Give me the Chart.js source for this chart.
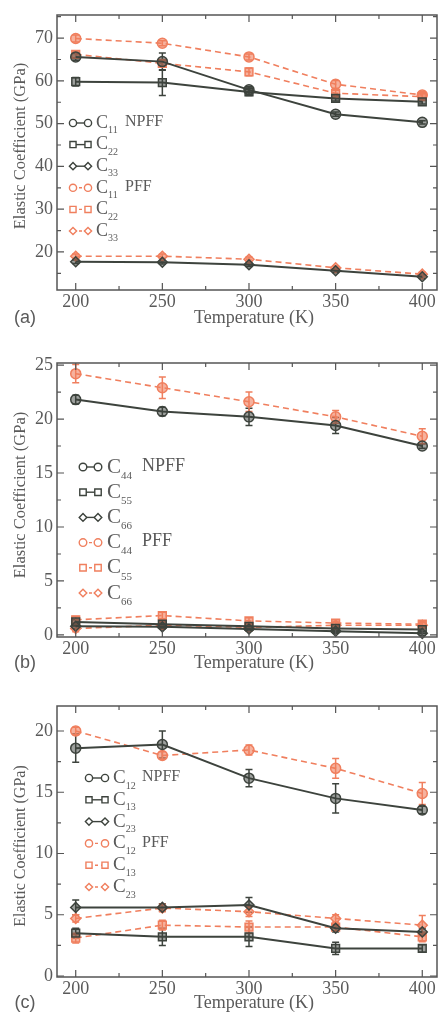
<!DOCTYPE html>
<html>
<head>
<meta charset="utf-8">
<script src="https://cdn.jsdelivr.net/npm/chart.js@4.4.1/dist/chart.umd.min.js"></script>
<style>
  html, body { margin: 0; padding: 0; background: #fff; }
  body { width: 444px; height: 1014px; position: relative; overflow: hidden; }
  canvas { position: absolute; left: 0; }
</style>
</head>
<body>
<canvas id="ca" width="444" height="335" style="top:0px"></canvas>
<canvas id="cb" width="444" height="340" style="top:335px"></canvas>
<canvas id="cc" width="444" height="344" style="top:670px"></canvas>
<script>
// ---- data ----
const temps = [200, 250, 300, 350, 400];
const xTicks = [200, 250, 300, 350, 400];
const xMinor = [225, 275, 325, 375];

// (a) C11, C22, C33
const c11Npff = [65.6, 64.5, 57.9, 52.2, 50.3];
const c22Npff = [59.8, 59.6, 57.4, 55.9, 55.1];
const c33Npff = [17.7, 17.6, 17.0, 15.6, 14.2];
const c11Pff = [69.9, 68.8, 65.6, 59.2, 56.7];
const c22Pff = [66.2, 64.1, 62.1, 57.1, 56.3];
const c33Pff = [19.0, 19.0, 18.3, 16.3, 14.8];
const c11NpffErr = [0.8, 2.0, 0.7, 0.5, 0.4];
const c22NpffErr = [1.0, 3.0, 0.8, 0.6, 0.5];
const c33NpffErr = [0.4, 0.4, 0.4, 0.4, 0.4];
const c11PffErr = [0.8, 0.6, 0.7, 0.9, 0.8];
const c22PffErr = [0.8, 0.7, 0.9, 0.7, 0.7];
const c33PffErr = [0.5, 0.5, 0.5, 0.4, 0.5];
const yTicksA = [20, 30, 40, 50, 60, 70];
const yMinorA = [15, 25, 35, 45, 55, 65, 75];

// (b) C44, C55, C66
const c44Npff = [21.8, 20.7, 20.2, 19.4, 17.5];
const c55Npff = [1.2, 1.0, 0.8, 0.6, 0.5];
const c66Npff = [0.8, 0.75, 0.55, 0.35, 0.15];
const c44Pff = [24.2, 22.9, 21.6, 20.2, 18.4];
const c55Pff = [1.4, 1.8, 1.3, 1.1, 1.0];
const c66Pff = [0.6, 0.9, 0.7, 0.9, 0.9];
const c44NpffErr = [0.4, 0.4, 0.8, 0.75, 0.2];
const c55NpffErr = [0.2, 0.2, 0.2, 0.2, 0.2];
const c66NpffErr = [0.2, 0.2, 0.2, 0.2, 0.2];
const c44PffErr = [0.85, 1.0, 0.9, 0.6, 0.7];
const c55PffErr = [0.3, 0.3, 0.3, 0.3, 0.3];
const c66PffErr = [0.3, 0.3, 0.3, 0.3, 0.3];
const yTicksB = [0, 5, 10, 15, 20, 25];
const yMinorB = [2.5, 7.5, 12.5, 17.5, 22.5];

// (c) C12, C13, C23
const c12Npff = [18.6, 18.9, 16.15, 14.5, 13.55];
const c13Npff = [3.5, 3.2, 3.2, 2.25, 2.25];
const c23Npff = [5.6, 5.6, 5.8, 3.9, 3.6];
const c12Pff = [20.0, 18.0, 18.45, 16.95, 14.9];
const c13Pff = [3.1, 4.15, 4.0, 4.0, 3.2];
const c23Pff = [4.7, 5.55, 5.25, 4.7, 4.15];
const c12NpffErr = [1.15, 1.1, 0.7, 1.2, 0.3];
const c13NpffErr = [0.4, 0.7, 0.8, 0.5, 0.3];
const c23NpffErr = [0.6, 0.3, 0.6, 0.3, 0.3];
const c12PffErr = [0.3, 0.3, 0.4, 0.8, 0.9];
const c13PffErr = [0.4, 0.4, 0.5, 0.3, 0.4];
const c23PffErr = [0.3, 0.3, 0.4, 0.3, 0.8];
const yTicksC = [0, 5, 10, 15, 20];
const yMinorC = [2.5, 7.5, 12.5, 17.5];

// ---- styling ----
const BLACK = '#3d433d';
const BLACK_FILL = 'rgba(61,67,61,0.5)';
const ORANGE = '#f07f5e';
const ORANGE_FILL = 'rgba(240,127,94,0.6)';
const TEXT = '#5a5a5a';
const SERIF = '"Liberation Serif", "DejaVu Serif", serif';
const SANS = '"Liberation Sans", "DejaVu Sans", sans-serif';
const STYLES = ['circle', 'rect', 'rectRot'];

function series(vals, errs, idx, pff) {
  return {
    data: temps.map((t, i) => ({ x: t, y: vals[i] })),
    errors: errs,
    borderColor: pff ? ORANGE : BLACK,
    backgroundColor: pff ? ORANGE_FILL : BLACK_FILL,
    borderWidth: pff ? 1.6 : 2,
    borderDash: pff ? [6, 4] : [],
    pointStyle: STYLES[idx],
    pointRadius: idx === 1 ? 5.5 : 5,
    pointBorderWidth: 1.5,
    pointBorderColor: pff ? ORANGE : BLACK,
    pointBackgroundColor: pff ? ORANGE_FILL : BLACK_FILL,
    tension: 0,
    clip: 8
  };
}

function drawMarker(ctx, style, x, y, r) {
  ctx.beginPath();
  if (style === 'circle') ctx.arc(x, y, r, 0, Math.PI * 2);
  else if (style === 'rect') ctx.rect(x - r * 0.85, y - r * 0.85, r * 1.7, r * 1.7);
  else { ctx.moveTo(x, y - r); ctx.lineTo(x + r, y); ctx.lineTo(x, y + r); ctx.lineTo(x - r, y); ctx.closePath(); }
  ctx.fill(); ctx.stroke();
}

const errorBars = {
  id: 'errorBars',
  beforeDatasetsDraw(chart) {
    const ctx = chart.ctx, xs = chart.scales.x, ys = chart.scales.y;
    ctx.save();
    chart.data.datasets.forEach(ds => {
      if (!ds.errors) return;
      ctx.strokeStyle = ds.borderColor;
      ctx.lineWidth = 1.5;
      ctx.setLineDash([]);
      ds.data.forEach((p, i) => {
        const e = ds.errors[i];
        const px = xs.getPixelForValue(p.x);
        const y1 = ys.getPixelForValue(p.y + e), y2 = ys.getPixelForValue(p.y - e);
        ctx.beginPath();
        ctx.moveTo(px, y1); ctx.lineTo(px, y2);
        ctx.moveTo(px - 3.5, y1); ctx.lineTo(px + 3.5, y1);
        ctx.moveTo(px - 3.5, y2); ctx.lineTo(px + 3.5, y2);
        ctx.stroke();
      });
    });
    ctx.restore();
  }
};

const decor = {
  id: 'decor',
  afterDraw(chart, args, o) {
    const ctx = chart.ctx, a = chart.chartArea, xs = chart.scales.x, ys = chart.scales.y;
    ctx.save();
    ctx.strokeStyle = '#555';
    ctx.lineWidth = 1.5;
    ctx.setLineDash([]);
    ctx.strokeRect(a.left, a.top, a.right - a.left, a.bottom - a.top);
    ctx.lineWidth = 1.2;
    const vt = (v, len) => {
      const px = xs.getPixelForValue(v);
      ctx.beginPath();
      ctx.moveTo(px, a.bottom); ctx.lineTo(px, a.bottom - len);
      ctx.moveTo(px, a.top); ctx.lineTo(px, a.top + len);
      ctx.stroke();
    };
    const ht = (v, len) => {
      const py = ys.getPixelForValue(v);
      if (py < a.top - 0.5 || py > a.bottom + 0.5) return;
      ctx.beginPath();
      ctx.moveTo(a.left, py); ctx.lineTo(a.left + len, py);
      ctx.moveTo(a.right, py); ctx.lineTo(a.right - len, py);
      ctx.stroke();
    };
    xTicks.forEach(v => vt(v, 7));
    xMinor.forEach(v => vt(v, 4));
    o.yMajor.forEach(v => ht(v, 7));
    o.yMinor.forEach(v => ht(v, 4));

    // titles
    ctx.fillStyle = TEXT;
    ctx.textAlign = 'center';
    ctx.textBaseline = 'middle';
    ctx.font = '18px ' + SERIF;
    ctx.fillText('Temperature (K)', 254, o.xTitleY);
    ctx.font = '18px ' + SANS;
    ctx.fillText(o.tag, 25, o.xTitleY);
    ctx.save();
    ctx.translate(21, o.yTitleY);
    ctx.rotate(-Math.PI / 2);
    ctx.font = o.yTitleSize + 'px ' + SERIF;
    ctx.fillText('Elastic Coefficient (GPa)', 0, 0);
    ctx.restore();

    // legend
    const L = o.legend;
    o.items.forEach((it, i) => {
      const y = L.y + i * L.dy;
      const pff = i >= 3;
      ctx.strokeStyle = pff ? ORANGE : BLACK;
      ctx.lineWidth = 1.4;
      ctx.setLineDash(pff ? [3, 3] : []);
      ctx.beginPath(); ctx.moveTo(L.m1, y); ctx.lineTo(L.m2, y); ctx.stroke();
      ctx.setLineDash([]);
      ctx.fillStyle = '#fff';
      drawMarker(ctx, STYLES[i % 3], L.m1, y, L.r);
      drawMarker(ctx, STYLES[i % 3], L.m2, y, L.r);
      ctx.fillStyle = TEXT;
      ctx.textAlign = 'left';
      ctx.textBaseline = 'middle';
      ctx.font = L.cSize + 'px ' + SERIF;
      ctx.fillText('C', L.cx, y);
      const w = ctx.measureText('C').width;
      ctx.font = L.subSize + 'px ' + SERIF;
      ctx.fillText(it.sub, L.cx + w, y + L.cSize * 0.42);
      if (it.suffix) {
        ctx.font = L.sufSize + 'px ' + SERIF;
        ctx.fillText(it.suffix, L.sx, y - 1);
      }
    });
    ctx.restore();
  }
};

function makeChart(id, datasets, yMin, yMax, yMajor, yMinor, box, decorOpts) {
  const cv = document.getElementById(id);
  return new Chart(cv, {
    type: 'line',
    data: { datasets },
    options: {
      responsive: false,
      animation: false,
      layout: { padding: { top: box.top, right: 1, left: 0, bottom: 0 } },
      plugins: { legend: { display: false }, tooltip: { enabled: false }, decor: decorOpts },
      scales: {
        x: {
          type: 'linear', min: 189.2, max: 408.5,
          afterBuildTicks: s => { s.ticks = xTicks.map(v => ({ value: v })); },
          afterFit: s => { s.height = cv.height - box.bottom; },
          grid: { display: false, drawTicks: false },
          border: { display: false },
          ticks: { autoSkip: false, maxRotation: 0, padding: 1, color: TEXT, font: { family: SERIF, size: 18 } }
        },
        y: {
          type: 'linear', min: yMin, max: yMax,
          afterBuildTicks: s => { s.ticks = yMajor.map(v => ({ value: v })); },
          afterFit: s => { s.width = 57; },
          grid: { display: false, drawTicks: false },
          border: { display: false },
          ticks: { padding: 4, color: TEXT, font: { family: SERIF, size: 18 } }
        }
      }
    },
    plugins: [errorBars, decor]
  });
}

makeChart('ca', [
  series(c11Npff, c11NpffErr, 0, false),
  series(c22Npff, c22NpffErr, 1, false),
  series(c33Npff, c33NpffErr, 2, false),
  series(c11Pff, c11PffErr, 0, true),
  series(c22Pff, c22PffErr, 1, true),
  series(c33Pff, c33PffErr, 2, true)
], 11.1, 75.4, yTicksA, yMinorA, { top: 15, bottom: 290 }, {
  yMajor: yTicksA, yMinor: yMinorA, xTitleY: 318, yTitleY: 146, yTitleSize: 16.5, tag: '(a)',
  legend: { y: 123, dy: 21.6, m1: 73, m2: 88, r: 3.6, cx: 96, sx: 125, cSize: 18, subSize: 10, sufSize: 16 },
  items: [{ sub: '11', suffix: 'NPFF' }, { sub: '22' }, { sub: '33' }, { sub: '11', suffix: 'PFF' }, { sub: '22' }, { sub: '33' }]
});

makeChart('cb', [
  series(c44Npff, c44NpffErr, 0, false),
  series(c55Npff, c55NpffErr, 1, false),
  series(c66Npff, c66NpffErr, 2, false),
  series(c44Pff, c44PffErr, 0, true),
  series(c55Pff, c55PffErr, 1, true),
  series(c66Pff, c66PffErr, 2, true)
], -0.19, 25.19, yTicksB, yMinorB, { top: 28, bottom: 302 }, {
  yMajor: yTicksB, yMinor: yMinorB, xTitleY: 328, yTitleY: 160, yTitleSize: 16.5, tag: '(b)',
  legend: { y: 132, dy: 25.2, m1: 83, m2: 98, r: 3.8, cx: 107, sx: 142, cSize: 21, subSize: 11, sufSize: 18 },
  items: [{ sub: '44', suffix: 'NPFF' }, { sub: '55' }, { sub: '66' }, { sub: '44', suffix: 'PFF' }, { sub: '55' }, { sub: '66' }]
});

makeChart('cc', [
  series(c12Npff, c12NpffErr, 0, false),
  series(c13Npff, c13NpffErr, 1, false),
  series(c23Npff, c23NpffErr, 2, false),
  series(c12Pff, c12PffErr, 0, true),
  series(c13Pff, c13PffErr, 1, true),
  series(c23Pff, c23PffErr, 2, true)
], -0.08, 22.04, yTicksC, yMinorC, { top: 36, bottom: 307 }, {
  yMajor: yTicksC, yMinor: yMinorC, xTitleY: 333, yTitleY: 176, yTitleSize: 16, tag: '(c)',
  legend: { y: 108, dy: 21.8, m1: 89, m2: 105, r: 3.6, cx: 113, sx: 142, cSize: 19, subSize: 10, sufSize: 16 },
  items: [{ sub: '12', suffix: 'NPFF' }, { sub: '13' }, { sub: '23' }, { sub: '12', suffix: 'PFF' }, { sub: '13' }, { sub: '23' }]
});
</script>
</body>
</html>
